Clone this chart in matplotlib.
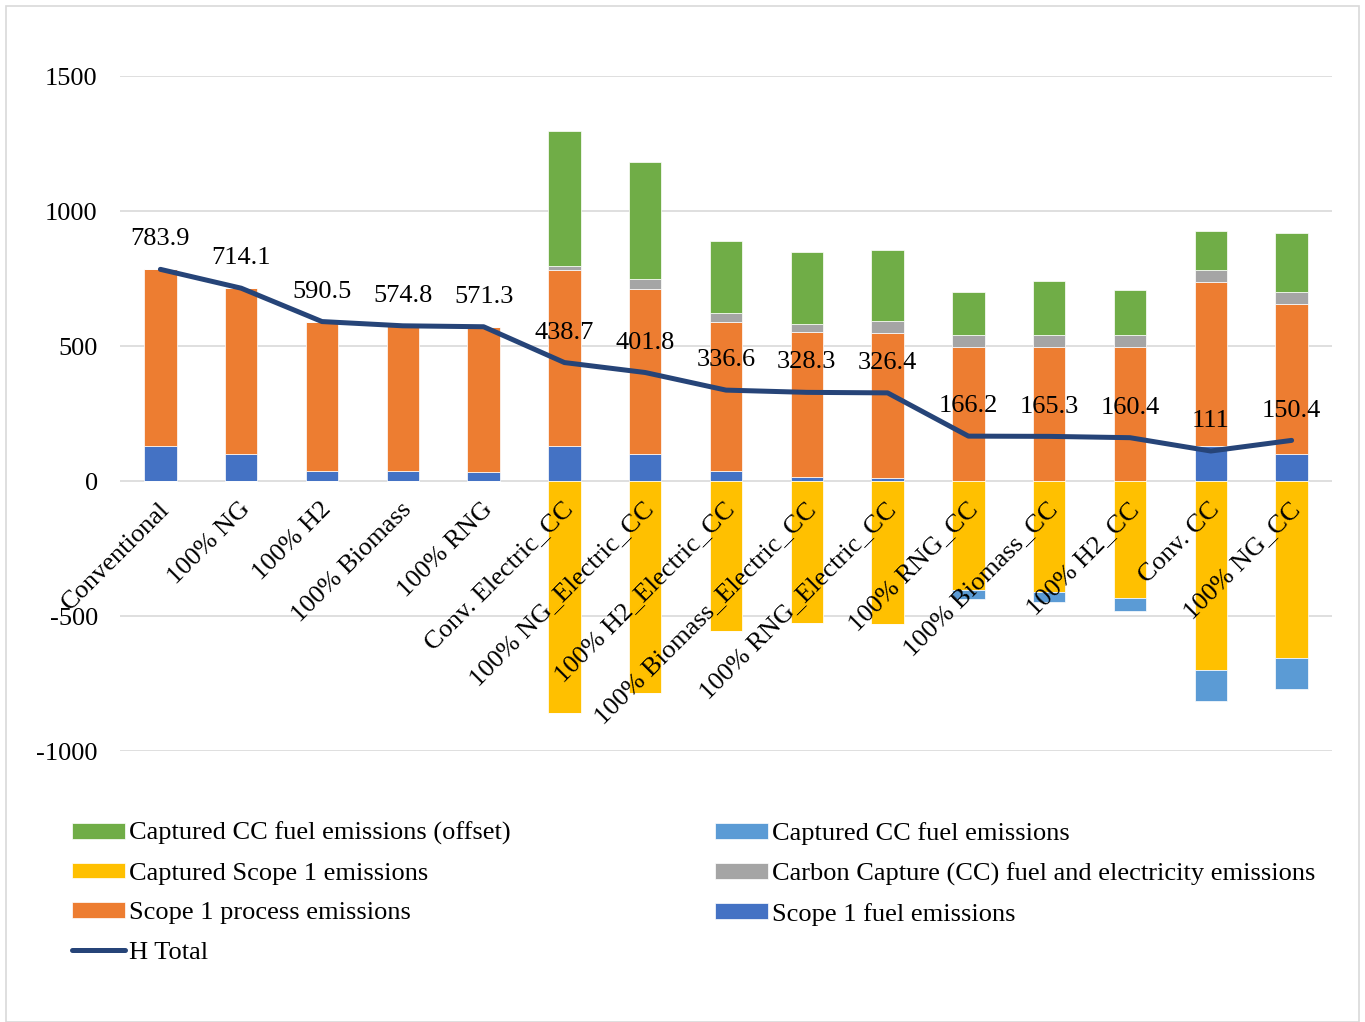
import numpy as np
import matplotlib
matplotlib.use("Agg")
import matplotlib.pyplot as plt
from matplotlib.patches import Rectangle

plt.rcParams['font.family'] = ['Liberation Serif', 'DejaVu Serif']
plt.rcParams['axes.unicode_minus'] = False

# Data
scenarios = ["Conventional", "100% NG", "100% H2", "100% Biomass", "100% RNG",
             "Conv. Electric_CC", "100% NG_Electric_CC", "100% H2_Electric_CC",
             "100% Biomass_Electric_CC", "100% RNG_Electric_CC", "100% RNG_CC",
             "100% Biomass_CC", "100% H2_CC", "Conv. CC", "100% NG_CC"]
fuel = [131, 99, 38, 37, 35, 131, 99, 38, 16, 12, 0, 0, 0, 131, 99]
process = [653, 615, 552, 538, 536, 650, 612, 550, 536, 535, 497, 497, 497, 605, 555]
cc_fuel_elec = [0, 0, 0, 0, 0, 15, 36, 35, 29, 47, 45, 45, 45, 45, 45]
captured_offset = [0, 0, 0, 0, 0, 500, 436, 266, 268, 260, 158, 197, 165, 145, 219]
captured_scope1 = [0, 0, 0, 0, 0, -860, -784, -556, -526, -531, -404, -411, -432, -700, -654]
captured_cc_fuel = [0, 0, 0, 0, 0, 0, 0, 0, 0, 0, -34, -36, -48, -116, -117]
h_total = [783.9, 714.1, 590.5, 574.8, 571.3, 438.7, 401.8, 336.6, 328.3, 326.4,
           166.2, 165.3, 160.4, 111, 150.4]

c_green = '#70AD47'
c_lblue = '#5B9BD5'
c_yellow = '#FFC000'
c_gray = '#A5A5A5'
c_orange = '#ED7D31'
c_blue = '#4472C4'
c_line = '#264478'

fs = 19

fig = plt.figure(figsize=(13.65, 10.22), dpi=100)
ax = fig.add_axes([120 / 1365, 1 - 751 / 1022, 1212 / 1365, 675 / 1022])

x = np.arange(len(scenarios))
w = 0.4
fuel = np.array(fuel)
process = np.array(process)
cc_fuel_elec = np.array(cc_fuel_elec)
captured_offset = np.array(captured_offset)
captured_scope1 = np.array(captured_scope1)
captured_cc_fuel = np.array(captured_cc_fuel)

b_fuel = ax.bar(x, fuel, w, color=c_blue, edgecolor='white', linewidth=0.5, zorder=2)
b_proc = ax.bar(x, process, w, bottom=fuel, color=c_orange, edgecolor='white', linewidth=0.5, zorder=2)
b_cc = ax.bar(x, cc_fuel_elec, w, bottom=fuel + process, color=c_gray, edgecolor='white', linewidth=0.5, zorder=2)
b_off = ax.bar(x, captured_offset, w, bottom=fuel + process + cc_fuel_elec, color=c_green,
               edgecolor='white', linewidth=0.5, zorder=2)
b_s1 = ax.bar(x, captured_scope1, w, color=c_yellow, edgecolor='white', linewidth=0.5, zorder=2)
b_ccf = ax.bar(x, captured_cc_fuel, w, bottom=captured_scope1, color=c_lblue,
               edgecolor='white', linewidth=0.5, zorder=2)
ln, = ax.plot(x, h_total, color=c_line, linewidth=3.6, zorder=3, solid_capstyle='round')

for xi, v in zip(x, h_total):
    ax.annotate(f"{v:g}", (xi, v), xytext=(0, 21.5), textcoords='offset points',
                ha='center', va='center', fontsize=fs, zorder=4)

# category labels at the zero line
for xi, name in zip(x, scenarios):
    ax.annotate(name, (xi, 0), xytext=(4, -18), textcoords='offset points',
                ha='right', va='center', rotation=45, rotation_mode='anchor',
                fontsize=fs, zorder=4)

ax.set_xlim(-0.5, len(scenarios) - 0.5)
ax.set_ylim(-1000, 1500)
ax.set_yticks([-1000, -500, 0, 500, 1000, 1500])
ax.set_xticks([])
ax.tick_params(axis='y', length=0, labelsize=fs, pad=16)
ax.grid(axis='y', color='#D9D9D9', linewidth=1.2, zorder=0)
ax.set_axisbelow(True)
for s in ax.spines.values():
    s.set_visible(False)

handles = [b_off, b_s1, b_proc, ln, b_ccf, b_cc, b_fuel]
labels = ["Captured CC fuel emissions (offset)", "Captured Scope 1 emissions",
          "Scope 1 process emissions", "H Total", "Captured CC fuel emissions",
          "Carbon Capture (CC) fuel and electricity emissions", "Scope 1 fuel emissions"]
fig.legend(handles, labels, loc='upper left', bbox_to_anchor=(72 / 1365, 1 - 822 / 1022),
           ncol=2, frameon=False, fontsize=fs, handlelength=2.0, handleheight=0.55,
           handletextpad=0.15, labelspacing=0.65, columnspacing=7.75, borderpad=0,
           borderaxespad=0)

fig.patches.append(Rectangle((6 / 1365, 0), 1 - 12 / 1365, 1 - 6 / 1022,
                             transform=fig.transFigure, fill=False,
                             edgecolor='#D9D9D9', linewidth=1.2))

fig.savefig("out.png", dpi=100)
